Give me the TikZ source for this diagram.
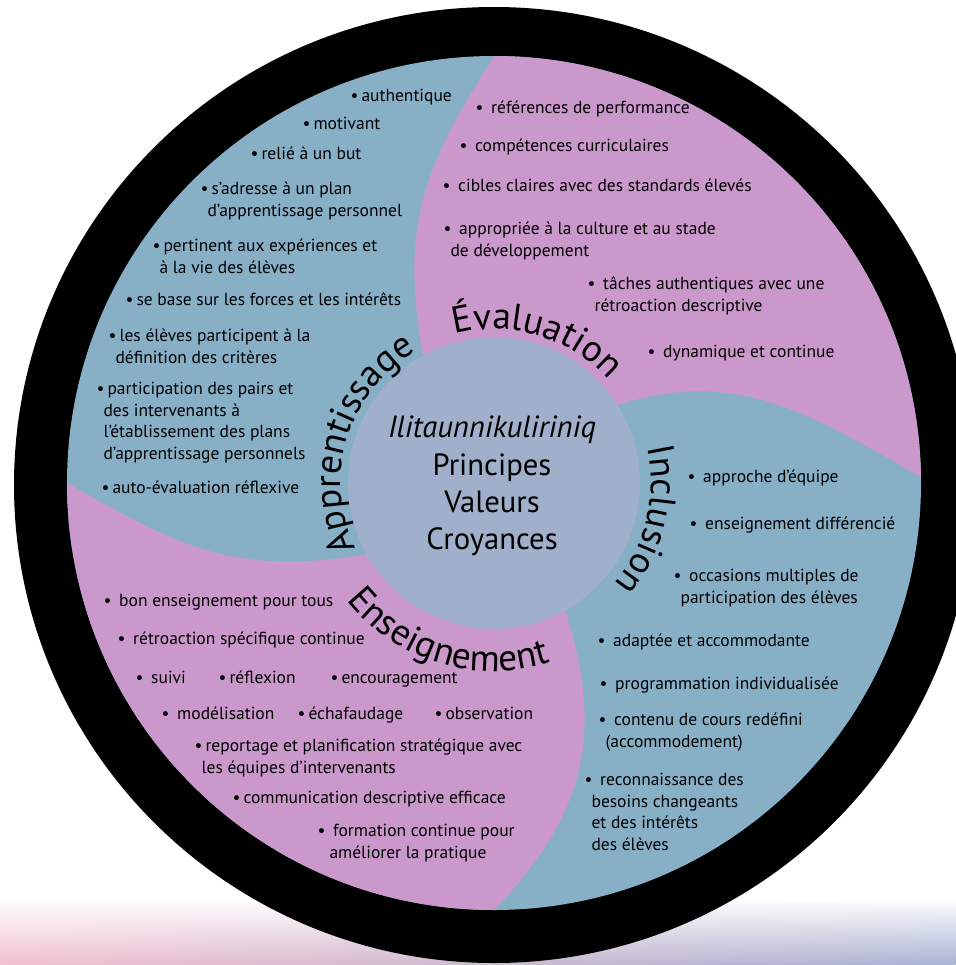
\documentclass[tikz,border=0pt]{standalone}
\usepackage{fontspec}
\setmainfont{PT Sans}
\usetikzlibrary{decorations.text,fadings}

\definecolor{bleu}{HTML}{87AFC6}
\definecolor{rose}{HTML}{CB98CB}
\definecolor{coeur}{HTML}{A0AFCA}
\definecolor{bandrose}{HTML}{F2C0CD}
\definecolor{bandmauve}{HTML}{D9C3DC}
\definecolor{bandbleu}{HTML}{A8B3D3}

\tikzfading[name=fadeband, top color=transparent!100, middle color=transparent!15, bottom color=transparent!0]

\newcommand{\pc}{\textbullet\hspace{0.18em}}
\newcommand{\pl}{\textbullet\hspace{0.45em}}
\newcommand{\retrait}{\hspace*{5.3pt}}
\newcommand{\titrefont}{\fontsize{28}{28}\selectfont}

\tikzset{every picture/.style={line width=0.75pt},
  liste/.style={anchor=base west, align=left, inner sep=0pt, font=\fontsize{13.1}{16.1}\selectfont},
  coeurtxt/.style={align=center, inner sep=0pt, font=\fontsize{23}{28}\selectfont}}

\begin{document}
\begin{tikzpicture}[x=0.75pt,y=0.75pt,yscale=-1,xscale=1]
\clip (0,0) rectangle (956,965);

% Bandeau du fond
\shade[left color=bandrose, middle color=bandmauve, right color=bandbleu, path fading=fadeband] (0,898) rectangle (956,965);

% Anneau noir et disque
\fill[black] (494,485) circle [x radius=480, y radius=478];
\fill[bleu] (494,483) circle [radius=427];

% Évaluation
\fill[rose] (423,356) .. controls (399,219) and (426,165) .. (494,56) arc [start angle=270, end angle=359.2, radius=427] .. controls (820,420) and (740,365) .. (618,405) -- (494,483) -- cycle;
% Enseignement
\fill[rose] (565,610) .. controls (605,735) and (585,815) .. (494,910) arc [start angle=90, end angle=180, radius=427] .. controls (172,542) and (230,578) .. (367,554) -- (494,483) -- cycle;

% Cercle central
\fill[coeur] (494,483) circle [radius=146];
\node[coeurtxt] (centre) at (492,486) {\textit{Ilitaunnikuliriniq}\\Principes\\Valeurs\\Croyances};

% Titres courbes
\begin{scope}[shift={(494,483)}, yscale=-1]
\path[decorate, decoration={text along path, text align=center, text={|\titrefont|Apprentissage}}] (223:153) arc [start angle=223, end angle=103, radius=153];
\path[decorate, decoration={text along path, text align=center, text={|\titrefont|Évaluation}}] (133.4:154) arc [start angle=133.4, end angle=13.4, radius=154];
\path[decorate, decoration={text along path, text align=center, text={|\titrefont|Inclusion}}] (46.5:157) arc [start angle=46.5, end angle=-73.5, radius=157];
\path[decorate, decoration={text along path, text align=center, text={|\titrefont|Enseignement}}] (193:188) arc [start angle=193, end angle=313, radius=188];
\end{scope}

% Apprentissage (base = derniere ligne)
\node[liste] (a1) at (350,101) {\pc authentique};
\node[liste] (a2) at (302,129) {\pc motivant};
\node[liste] (a3) at (250,159) {\pc relié à un but};
\node[liste] (a4) at (200,216) {\pc s’adresse à un plan\\\retrait d’apprentissage personnel};
\node[liste] (a5) at (152,273) {\pc pertinent aux expériences et\\\retrait à la vie des élèves};
\node[liste] (a6) at (125,305) {\pc se base sur les forces et les intérêts};
\node[liste] (a7) at (108,363) {\pc les élèves participent à la\\\retrait définition des critères};
\node[liste] (a8) at (96,459) {\pc participation des pairs et\\\retrait des intervenants à\\\retrait l’établissement des plans\\\retrait d’apprentissage personnels};
\node[liste] (a9) at (101,493) {\pc auto-évaluation réflexive};

% Évaluation
\node[liste] (e1) at (475,113) {\pl références de performance};
\node[liste] (e2) at (459,151) {\pl compétences curriculaires};
\node[liste] (e3) at (442,191) {\pl cibles claires avec des standards élevés};
\node[liste] (e4) at (443,256) {\pl appropriée à la culture et au stade\\\retrait de développement};
\node[liste] (e5) at (587,311) {\pl tâches authentiques avec une\\\retrait rétroaction descriptive};
\node[liste] (e6) at (647,357) {\pl dynamique et continue};

% Inclusion
\node[liste] (i1) at (687,482) {\pl approche d’équipe};
\node[liste] (i2) at (689,529) {\pl enseignement différencié};
\node[liste] (i3) at (673,603) {\pl occasions multiples de\\\retrait participation des élèves};
\node[liste] (i4) at (597,646) {\pl adaptée et accommodante};
\node[liste] (i5) at (599,689) {\pl programmation individualisée};
\node[liste] (i6) at (598,747) {\pl contenu de cours redéfini\\\retrait (accommodement)};
\node[liste] (i7) at (584,850) {\pl reconnaissance des\\\retrait besoins changeants\\\retrait et des intérêts\\\retrait des élèves};

% Enseignement
\node[liste] (n1) at (103,606) {\pl bon enseignement pour tous};
\node[liste] (n2) at (117,644) {\pl rétroaction spécifique continue};
\node[liste] (n3) at (135,683) {\pl suivi};
\node[liste] (n4) at (218,683) {\pc réflexion};
\node[liste] (n5) at (330,683) {\pc encouragement};
\node[liste] (n6) at (161,719) {\pl modélisation};
\node[liste] (n7) at (297,719) {\pc échafaudage};
\node[liste] (n8) at (434,719) {\pc observation};
\node[liste] (n9) at (194,773) {\pc reportage et planification stratégique avec\\\retrait les équipes d’intervenants};
\node[liste] (n10) at (232,803) {\pc communication descriptive efficace};
\node[liste] (n11) at (317,858) {\pl formation continue pour\\\hspace*{9pt}améliorer la pratique};

\end{tikzpicture}
\end{document}
